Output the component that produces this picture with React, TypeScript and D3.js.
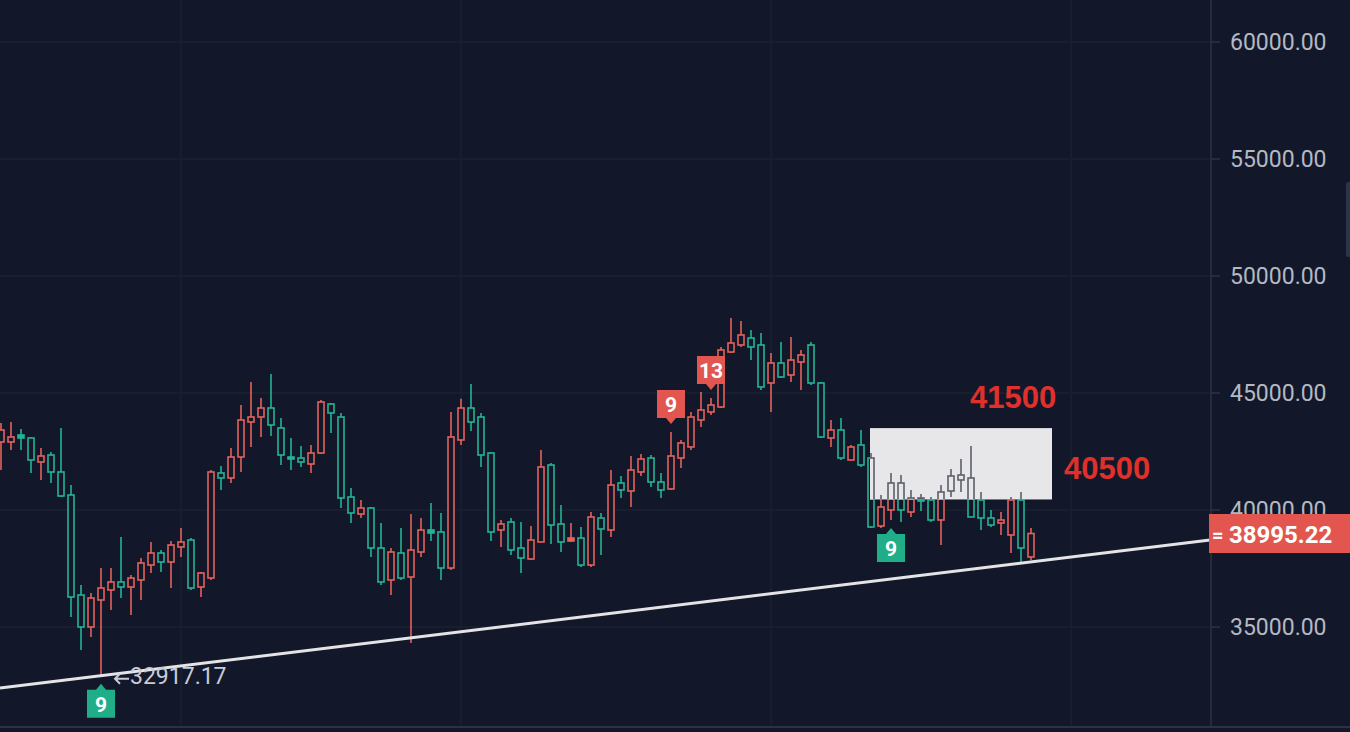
import React from 'react';
import * as d3 from 'd3';

// ---- data (daily candles, starting 2022-01-14) ----
const startDate = new Date(2022, 0, 14);
const opens = [
  42907, 42907, 43205, 43077, 42052, 42350, 41625, 40641, 36367, 35000,
  36154, 36581, 36924, 36709, 37009, 37649, 38163, 37778, 38419, 38718,
  36709, 37094, 41582, 41368, 42265, 43761, 43975, 44359, 43504, 42265,
  42222, 41966, 42436, 44530, 43975, 40556, 39829, 40085, 38376, 37009,
  38163, 37137, 38205, 39145, 39060, 37521, 42992, 44359, 43975, 42436,
  39145, 39487, 38376, 37906, 38633, 41923, 39402, 38675, 38803, 37649,
  39658, 39145, 41154, 40812, 41625, 42222, 41197, 40898, 42222, 42693,
  43846, 44189, 44402, 46752, 47052, 47350, 47052, 45428, 46282, 45769,
  46325, 47052, 45428, 43077, 43419, 42137, 42778, 42222, 39316, 40000,
  41154, 39914, 40513, 40427, 39573, 40812, 41282, 41368, 40427, 39658,
  39444, 38932, 40427, 37992,
];
const highs = [
  43718, 43761, 43462, 43120, 42650, 42479, 43504, 41068, 36795, 36453,
  37521, 37521, 38846, 37222, 37949, 38633, 38291, 38675, 39230, 38803,
  37351, 41710, 41881, 42650, 44487, 45471, 44786, 45812, 43931, 43077,
  42736, 42778, 44701, 44573, 44146, 40941, 40427, 40128, 39444, 38376,
  39230, 39829, 39658, 40299, 39872, 44189, 44753, 45384, 44146, 42479,
  39573, 39658, 39487, 39316, 42564, 42009, 40214, 39444, 39274, 39914,
  39872, 41710, 41454, 42308, 42393, 42350, 41582, 43334, 42992, 44189,
  45043, 44786, 46966, 48205, 48077, 47692, 47564, 46710, 47180, 47393,
  46838, 47180, 45470, 43846, 43931, 42778, 43419, 42436, 40641, 41582,
  41496, 40855, 40684, 40556, 41068, 41753, 42180, 42736, 40769, 40000,
  39914, 40556, 40769, 39231,
];
const lows = [
  41710, 42564, 42564, 41582, 41282, 41154, 40556, 35427, 34017, 34573,
  32917.17, 35727, 36239, 35513, 36154, 37308, 37351, 36666, 37992, 36581,
  36282, 37009, 40855, 41154, 41625, 42693, 43120, 43163, 41923, 41710,
  41838, 41582, 42393, 43291, 40085, 39444, 39658, 37992, 36795, 36367,
  37009, 34317, 37992, 38676, 37009, 37436, 42778, 43376, 41838, 38676,
  38419, 38077, 37308, 37863, 38633, 38547, 38205, 38633, 37564, 37564,
  38077, 38846, 40513, 40128, 41454, 40983, 40513, 40855, 41795, 42564,
  43547, 44061, 44359, 46710, 46966, 46410, 45128, 44189, 45641, 45470,
  45128, 45342, 43077, 42693, 42137, 42137, 41838, 39231, 39231, 39573,
  39487, 39701, 39957, 39487, 38504, 40556, 40769, 39701, 39145, 39274,
  38932, 38163, 37778, 37863,
];
const closes = [
  43419, 43120, 43077, 42137, 42308, 41625, 40599, 36282, 35000, 36239,
  36666, 36924, 36709, 37094, 37735, 38163, 37778, 38504, 38633, 36666,
  37308, 41625, 41368, 42265, 43846, 43975, 44359, 43632, 42350, 42180,
  42052, 42436, 44616, 44146, 40513, 39872, 40085, 38376, 36924, 38205,
  37094, 38291, 39145, 39017, 37521, 43120, 44359, 43761, 42350, 39060,
  39402, 38291, 37949, 38718, 41838, 39359, 38633, 38803, 37649, 39701,
  39188, 41068, 40855, 41710, 42180, 41197, 40855, 42308, 42864, 43975,
  44274, 44487, 46838, 47137, 47479, 46966, 45257, 46282, 45684, 46410,
  46624, 45428, 43120, 43419, 42222, 42693, 41923, 39274, 40128, 41154,
  40000, 40513, 40385, 39573, 40769, 41454, 41496, 39701, 39658, 39359,
  39573, 40427, 38376, 38995.22,
];
const yTicks = [35000, 40000, 45000, 50000, 55000, 60000];
const lastPrice = 38995.22;
const swingLowIndex = 10;
const swingLowValue = 32917.17;
// trend line: through the swing low and ending at the price axis
const trendPoints = [
  { i: 10, v: 32917 },
  { i: 120.9, v: 38718 },
];
// highlighted zone
const zoneIndex = [86.9, 105.1];
const zoneValues = [43500, 40450];
const zoneLabels = ['41500', '40500'];
// TD sequential markers
const markers = [
  { i: 10, text: '9', kind: 'buy' },
  { i: 67, text: '9', kind: 'sell' },
  { i: 71, text: '13', kind: 'sell' },
  { i: 89, text: '9', kind: 'buy' },
];

// ---- styles ----
const W = 1350;
const H = 732;
const BG = '#121829';
const GRID = '#1a2132';
const AXIS = '#2b3245';
const RED = '#e4625a';
const GREEN = '#22b595';
const TAG_RED = '#e2564f';
const TAG_GREEN = '#1fae88';
const AXIS_X = 1211;
const BOTTOM = 727;

export default function App() {
  const x = d3.scaleLinear().domain([0, opens.length - 1]).range([1, 1031]);
  const y = d3.scaleLinear().domain([35000, 60000]).range([627, 42]);
  const bodyW = 6;

  const monthStarts = d3.timeMonth.range(d3.timeDay.offset(startDate, 1), new Date(2022, 4, 2));
  const monthIdx = monthStarts.map((d) => d3.timeDay.count(startDate, d));

  const slope = (trendPoints[1].v - trendPoints[0].v) / (trendPoints[1].i - trendPoints[0].i);
  const iStart = x.invert(0);
  const vStart = trendPoints[0].v + (iStart - trendPoints[0].i) * slope;

  const zx0 = x(zoneIndex[0]);
  const zx1 = x(zoneIndex[1]);
  const zy0 = y(zoneValues[0]);
  const zy1 = y(zoneValues[1]);

  const fmt = d3.format('.2f');

  const renderCandles = (gray: boolean) =>
    opens.map((o, i) => {
      const c = closes[i];
      const up = c >= o;
      const col = gray ? '#5c5f6c' : up ? RED : GREEN;
      const fill = gray ? '#e7e7ea' : BG;
      const cx = x(i);
      const yt = y(Math.max(o, c));
      const yb = y(Math.min(o, c));
      const bh = Math.max(yb - yt, 1.5);
      return (
        <g key={i}>
          <line x1={cx} x2={cx} y1={y(highs[i])} y2={yt} stroke={col} strokeWidth={1.6} />
          <line x1={cx} x2={cx} y1={yt + bh} y2={y(lows[i])} stroke={col} strokeWidth={1.6} />
          <rect x={cx - bodyW / 2} y={yt} width={bodyW} height={bh} fill={bh < 3 ? col : fill} stroke={col} strokeWidth={1.6} />
        </g>
      );
    });

  return (
    <svg
      width={W}
      height={H}
      style={{ position: 'absolute', left: 0, top: 0, display: 'block', background: BG }}
      fontFamily="Roboto, 'Noto Sans', sans-serif"
    >
      <defs>
        <clipPath id="plot">
          <rect x={0} y={0} width={AXIS_X} height={BOTTOM} />
        </clipPath>
        <clipPath id="zone">
          <rect x={zx0} y={zy0} width={zx1 - zx0} height={zy1 - zy0} />
        </clipPath>
      </defs>
      <rect x={0} y={0} width={W} height={H} fill={BG} />

      {/* grid */}
      {yTicks.map((t) => (
        <line key={'h' + t} x1={0} x2={AXIS_X} y1={y(t)} y2={y(t)} stroke={GRID} strokeWidth={1.5} />
      ))}
      {monthIdx.map((m) => (
        <line key={'v' + m} x1={x(m)} x2={x(m)} y1={0} y2={BOTTOM} stroke={GRID} strokeWidth={1.5} />
      ))}

      {/* candles */}
      <g clipPath="url(#plot)">{renderCandles(false)}</g>

      {/* zone */}
      <rect x={zx0} y={zy0} width={zx1 - zx0} height={zy1 - zy0} fill="#e7e7ea" />
      <g clipPath="url(#zone)">{renderCandles(true)}</g>
      <text x={zx0 + 100} y={zy0 - 20} fontFamily="'Liberation Sans', Arial, sans-serif" fontWeight="bold" fontSize={31} fill="#e0302b">
        {zoneLabels[0]}
      </text>
      <text x={zx1 + 12} y={zy1 - 20} fontFamily="'Liberation Sans', Arial, sans-serif" fontWeight="bold" fontSize={31} fill="#e0302b">
        {zoneLabels[1]}
      </text>

      {/* trend line */}
      <line
        x1={0}
        y1={y(vStart)}
        x2={x(trendPoints[1].i)}
        y2={y(trendPoints[1].v)}
        stroke="#e4e4e6"
        strokeWidth={3}
      />

      {/* swing low label */}
      <g stroke="#c9ccd5" strokeWidth={2} fill="none">
        <path d={`M${x(swingLowIndex) + 14},${y(swingLowValue) + 3} h14 M${x(swingLowIndex) + 19},${y(swingLowValue) - 2} l-5,5 l5,5`} />
      </g>
      <text x={x(swingLowIndex) + 29} y={y(swingLowValue) + 8} fontSize={23} fill="#c9ccd5">
        {fmt(swingLowValue)}
      </text>

      {/* TD markers */}
      {markers.map((m, k) => {
        const cx = x(m.i);
        const buy = m.kind === 'buy';
        const tip = buy ? y(lows[m.i]) + 8 : y(highs[m.i]) - 8;
        const bw = 28;
        const bh = 28;
        const p = 6;
        const top = buy ? tip + p : tip - p - bh;
        const col = buy ? TAG_GREEN : TAG_RED;
        const d = buy
          ? `M${cx - bw / 2},${top} H${cx - 5} L${cx},${tip} L${cx + 5},${top} H${cx + bw / 2} V${top + bh} H${cx - bw / 2} Z`
          : `M${cx - bw / 2},${top} H${cx + bw / 2} V${top + bh} H${cx + 5} L${cx},${tip} L${cx - 5},${top + bh} H${cx - bw / 2} Z`;
        return (
          <g key={k}>
            <path d={d} fill={col} />
            <text x={cx} y={top + bh / 2 + 1} textAnchor="middle" dominantBaseline="central" fontWeight="bold" fontSize={21} fill="#ffffff">
              {m.text}
            </text>
          </g>
        );
      })}

      {/* price axis */}
      <line x1={AXIS_X} x2={AXIS_X} y1={0} y2={BOTTOM} stroke={AXIS} strokeWidth={1.5} />
      <line x1={0} x2={W} y1={BOTTOM} y2={BOTTOM} stroke={AXIS} strokeWidth={2} />
      {yTicks.map((t) => (
        <g key={'t' + t}>
          <line x1={AXIS_X} x2={AXIS_X + 9} y1={y(t)} y2={y(t)} stroke={AXIS} strokeWidth={1.5} />
          <text x={1230} y={y(t)} dominantBaseline="central" fontSize={23} fill="#b4b8c4">
            {fmt(t)}
          </text>
        </g>
      ))}
      <rect x={1346} y={182} width={8} height={75} rx={2} fill="#2b3449" />

      {/* last price tag (covers the lower half of the 40000.00 label, as in the reference) */}
      <rect x={1209} y={y(lastPrice) - 19.5} width={W - 1209} height={39} fill={TAG_RED} />
      <text x={1212} y={y(lastPrice) + 1} dominantBaseline="central" fontWeight="bold" fontSize={20} fill="#ffffff">
        =
      </text>
      <text x={1229} y={y(lastPrice) + 1} dominantBaseline="central" fontWeight="bold" fontSize={24} fill="#ffffff">
        {fmt(lastPrice)}
      </text>
    </svg>
  );
}
